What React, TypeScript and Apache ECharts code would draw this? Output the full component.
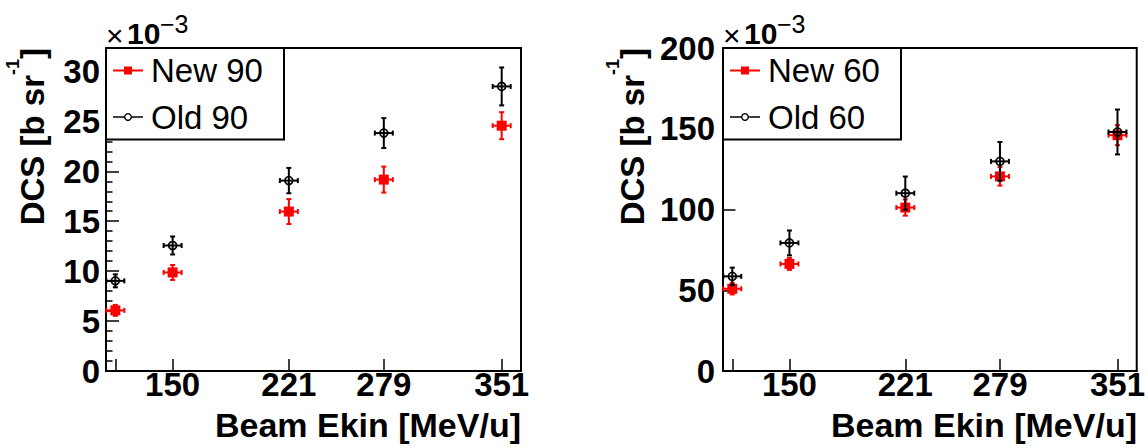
import React, { useEffect, useRef } from "react";
import * as echarts from "echarts";

// ---------- data ----------
const energies = [115, 150, 221, 279, 351];
const energyErr = [5.5, 5.5, 5.5, 5.5, 5.5];
const xTickValues = [115, 150, 221, 279, 351];
const xLabelValues = [150, 221, 279, 351];

const new90 = [6.07, 9.87, 15.97, 19.17, 24.57];
const new90Err = [0.55, 0.75, 1.25, 1.3, 1.35];
const old90 = [9.03, 12.57, 19.07, 23.83, 28.5];
const old90Err = [0.65, 0.9, 1.27, 1.5, 1.9];

const new60 = [50.9, 66.3, 101.2, 120.5, 146];
const new60Err = [3.5, 3.7, 5, 5.7, 6.2];
const old60 = [58.6, 79.3, 110.1, 129.8, 148];
const old60Err = [5.4, 7.7, 10.3, 12, 13.9];

const namesLeft = ["New 90", "Old 90"];
const namesRight = ["New 60", "Old 60"];

const yLeftMajor = [0, 5, 10, 15, 20, 25, 30];
const yLeftMinor = [1, 2, 3, 4, 6, 7, 8, 9, 11, 12, 13, 14, 16, 17, 18, 19, 21, 22, 23, 24, 26, 27, 28, 29, 31, 32];
const yRightMajor = [0, 50, 100, 150, 200];

const xTitle = "Beam Ekin [MeV/u]";
const yTitleMain = "DCS [b sr";
const yTitleSup = "-1";
const yTitleEnd = "]";
const scaleTimes = "\u00d7";
const scaleBase = "10";
const scaleExp = "\u22123";

const FONT = "'Liberation Sans', Arial, Helvetica, sans-serif";

type Kind = "square" | "circle";

const makeRender = (kind: Kind, color: string) => (params: any, api: any) => {
  const x = api.value(0);
  const y = api.value(1);
  const ey = api.value(2);
  const ex = api.value(3);
  const c = api.coord([x, y]);
  const t = api.coord([x, y + ey]);
  const b = api.coord([x, y - ey]);
  const l = api.coord([x - ex, y]);
  const r = api.coord([x + ex, y]);
  const cap = 2.5;
  const ls = { stroke: color, lineWidth: 2 };
  const children: any[] = [
    { type: "line", shape: { x1: c[0], y1: t[1], x2: c[0], y2: b[1] }, style: ls },
    { type: "line", shape: { x1: c[0] - cap, y1: t[1], x2: c[0] + cap, y2: t[1] }, style: ls },
    { type: "line", shape: { x1: c[0] - cap, y1: b[1], x2: c[0] + cap, y2: b[1] }, style: ls },
    { type: "line", shape: { x1: l[0], y1: c[1], x2: r[0], y2: c[1] }, style: ls },
    { type: "line", shape: { x1: l[0], y1: c[1] - cap, x2: l[0], y2: c[1] + cap }, style: ls },
    { type: "line", shape: { x1: r[0], y1: c[1] - cap, x2: r[0], y2: c[1] + cap }, style: ls },
  ];
  if (kind === "square") {
    children.push({ type: "rect", shape: { x: c[0] - 5, y: c[1] - 5, width: 10, height: 10 }, style: { fill: color } });
  } else {
    children.push({ type: "circle", shape: { cx: c[0], cy: c[1], r: 4 }, style: { fill: "none", stroke: color, lineWidth: 1.6 } });
  }
  return { type: "group", children };
};

const toData = (vals: number[], errs: number[]) => energies.map((e, i) => [e, vals[i], errs[i], energyErr[i]]);

function legendGraphic(x0: number, x1: number, names: string[]) {
  const top = 48;
  const bottom = 139.5;
  const lx0 = x0 + 7;
  const lx1 = x0 + 37;
  const mx = (lx0 + lx1) / 2;
  const rows = [70.5, 117];
  return [
    { type: "rect", z: 100, shape: { x: x0, y: top, width: x1 - x0, height: bottom - top }, style: { fill: "#fff", stroke: "#000", lineWidth: 2 } },
    { type: "line", z: 101, shape: { x1: lx0, y1: rows[0], x2: lx1, y2: rows[0] }, style: { stroke: "#ff0000", lineWidth: 2 } },
    { type: "rect", z: 101, shape: { x: mx - 4, y: rows[0] - 4, width: 8, height: 8 }, style: { fill: "#ff0000" } },
    { type: "line", z: 101, shape: { x1: lx0, y1: rows[1], x2: lx1, y2: rows[1] }, style: { stroke: "#000", lineWidth: 1.5 } },
    { type: "circle", z: 102, shape: { cx: mx, cy: rows[1], r: 3.3 }, style: { fill: "#fff", stroke: "#000", lineWidth: 1.3 } },
    { type: "text", z: 101, x: x0 + 45, y: rows[0], style: { text: names[0], font: `33px ${FONT}`, fill: "#000", align: "left", verticalAlign: "middle" } },
    { type: "text", z: 101, x: x0 + 45, y: rows[1], style: { text: names[1], font: `33px ${FONT}`, fill: "#000", align: "left", verticalAlign: "middle" } },
  ];
}

function yTitleGraphic(cx: number) {
  return {
    type: "text",
    x: cx,
    y: 48,
    rotation: Math.PI / 2,
    style: {
      text: `{a|${yTitleMain}}{s|${yTitleSup}}{a|${yTitleEnd}}`,
      align: "right",
      verticalAlign: "middle",
      rich: {
        a: { fontSize: 33, fontWeight: "bold", fontFamily: FONT, lineHeight: 56, color: "#000" },
        s: { fontSize: 18, fontWeight: "bold", fontFamily: FONT, lineHeight: 20, verticalAlign: "top", color: "#000" },
      },
    },
  };
}

function scaleGraphic(x: number) {
  return [
    { type: "text", x: x, y: 35, style: { text: scaleTimes, font: `30px ${FONT}`, fill: "#000", align: "left", verticalAlign: "middle" } },
    { type: "text", x: x + 21, y: 33, style: { text: scaleBase, font: `bold 30px ${FONT}`, fill: "#000", align: "left", verticalAlign: "middle" } },
    { type: "text", x: x + 54, y: 24, style: { text: scaleExp, font: `25px ${FONT}`, fill: "#000", align: "left", verticalAlign: "middle" } },
  ];
}

function xTitleGraphic(right: number) {
  return {
    type: "text",
    x: right,
    y: 425,
    style: { text: xTitle, font: `bold 34px ${FONT}`, fill: "#000", align: "right", verticalAlign: "middle" },
  };
}

export default function App() {
  const ref = useRef<HTMLDivElement>(null);
  useEffect(() => {
    if (!ref.current) return;
    const chart = echarts.init(ref.current, null, { renderer: "svg" });
    const xAxisBase = (gridIndex: number) => ({
      type: "value",
      gridIndex,
      min: 109.3,
      max: 362.8,
      axisLine: { show: true, onZero: false, lineStyle: { color: "#000", width: 2 } },
      axisTick: { show: true, inside: true, length: 12, customValues: xTickValues, lineStyle: { color: "#000", width: 1.5 } },
      axisLabel: { customValues: xLabelValues, fontSize: 33, fontWeight: "bold", color: "#000", fontFamily: FONT, margin: -3 },
      splitLine: { show: false },
    });
    const option: any = {
      animation: false,
      backgroundColor: "#fff",
      textStyle: { fontFamily: FONT },
      grid: [
        { left: 106, top: 48, width: 415, height: 323, show: true, borderColor: "#000", borderWidth: 2, backgroundColor: "transparent" },
        { left: 723, top: 48, width: 415, height: 323, show: true, borderColor: "#000", borderWidth: 2, backgroundColor: "transparent" },
      ],
      xAxis: [xAxisBase(0), xAxisBase(1)],
      yAxis: [
        {
          type: "value", gridIndex: 0, position: "left", min: 0, max: 32.35,
          axisLine: { show: true, lineStyle: { color: "#000", width: 2 } },
          axisTick: { show: true, inside: true, length: 13, customValues: yLeftMajor, lineStyle: { color: "#000", width: 1.5 } },
          axisLabel: { customValues: yLeftMajor, fontSize: 33, fontWeight: "bold", color: "#000", fontFamily: FONT, margin: 6 },
          splitLine: { show: false },
        },
        {
          type: "value", gridIndex: 0, position: "left", min: 0, max: 32.35,
          axisLine: { show: false },
          axisTick: { show: true, inside: true, length: 6.5, customValues: yLeftMinor, lineStyle: { color: "#000", width: 1.5 } },
          axisLabel: { show: false },
          splitLine: { show: false },
        },
        {
          type: "value", gridIndex: 1, position: "left", min: 0, max: 200,
          axisLine: { show: true, lineStyle: { color: "#000", width: 2 } },
          axisTick: { show: true, inside: true, length: 12.5, customValues: yRightMajor, lineStyle: { color: "#000", width: 1.5 } },
          axisLabel: { customValues: yRightMajor, fontSize: 33, fontWeight: "bold", color: "#000", fontFamily: FONT, margin: 8 },
          splitLine: { show: false },
        },
      ],
      series: [
        { type: "custom", name: namesLeft[0], xAxisIndex: 0, yAxisIndex: 0, renderItem: makeRender("square", "#ff0000"), data: toData(new90, new90Err), clip: false },
        { type: "custom", name: namesLeft[1], xAxisIndex: 0, yAxisIndex: 0, renderItem: makeRender("circle", "#000"), data: toData(old90, old90Err), clip: false },
        { type: "custom", name: namesRight[0], xAxisIndex: 1, yAxisIndex: 2, renderItem: makeRender("square", "#ff0000"), data: toData(new60, new60Err), clip: false },
        { type: "custom", name: namesRight[1], xAxisIndex: 1, yAxisIndex: 2, renderItem: makeRender("circle", "#000"), data: toData(old60, old60Err), clip: false },
      ],
      graphic: [
        ...legendGraphic(106, 284, namesLeft),
        ...legendGraphic(723, 901, namesRight),
        yTitleGraphic(32),
        yTitleGraphic(632),
        ...scaleGraphic(106),
        ...scaleGraphic(723),
        xTitleGraphic(521),
        xTitleGraphic(1137),
      ],
    };
    chart.setOption(option);
    return () => chart.dispose();
  }, []);
  return <div ref={ref} style={{ position: "absolute", left: 0, top: 0, width: 1148, height: 448, background: "#fff" }} />;
}
